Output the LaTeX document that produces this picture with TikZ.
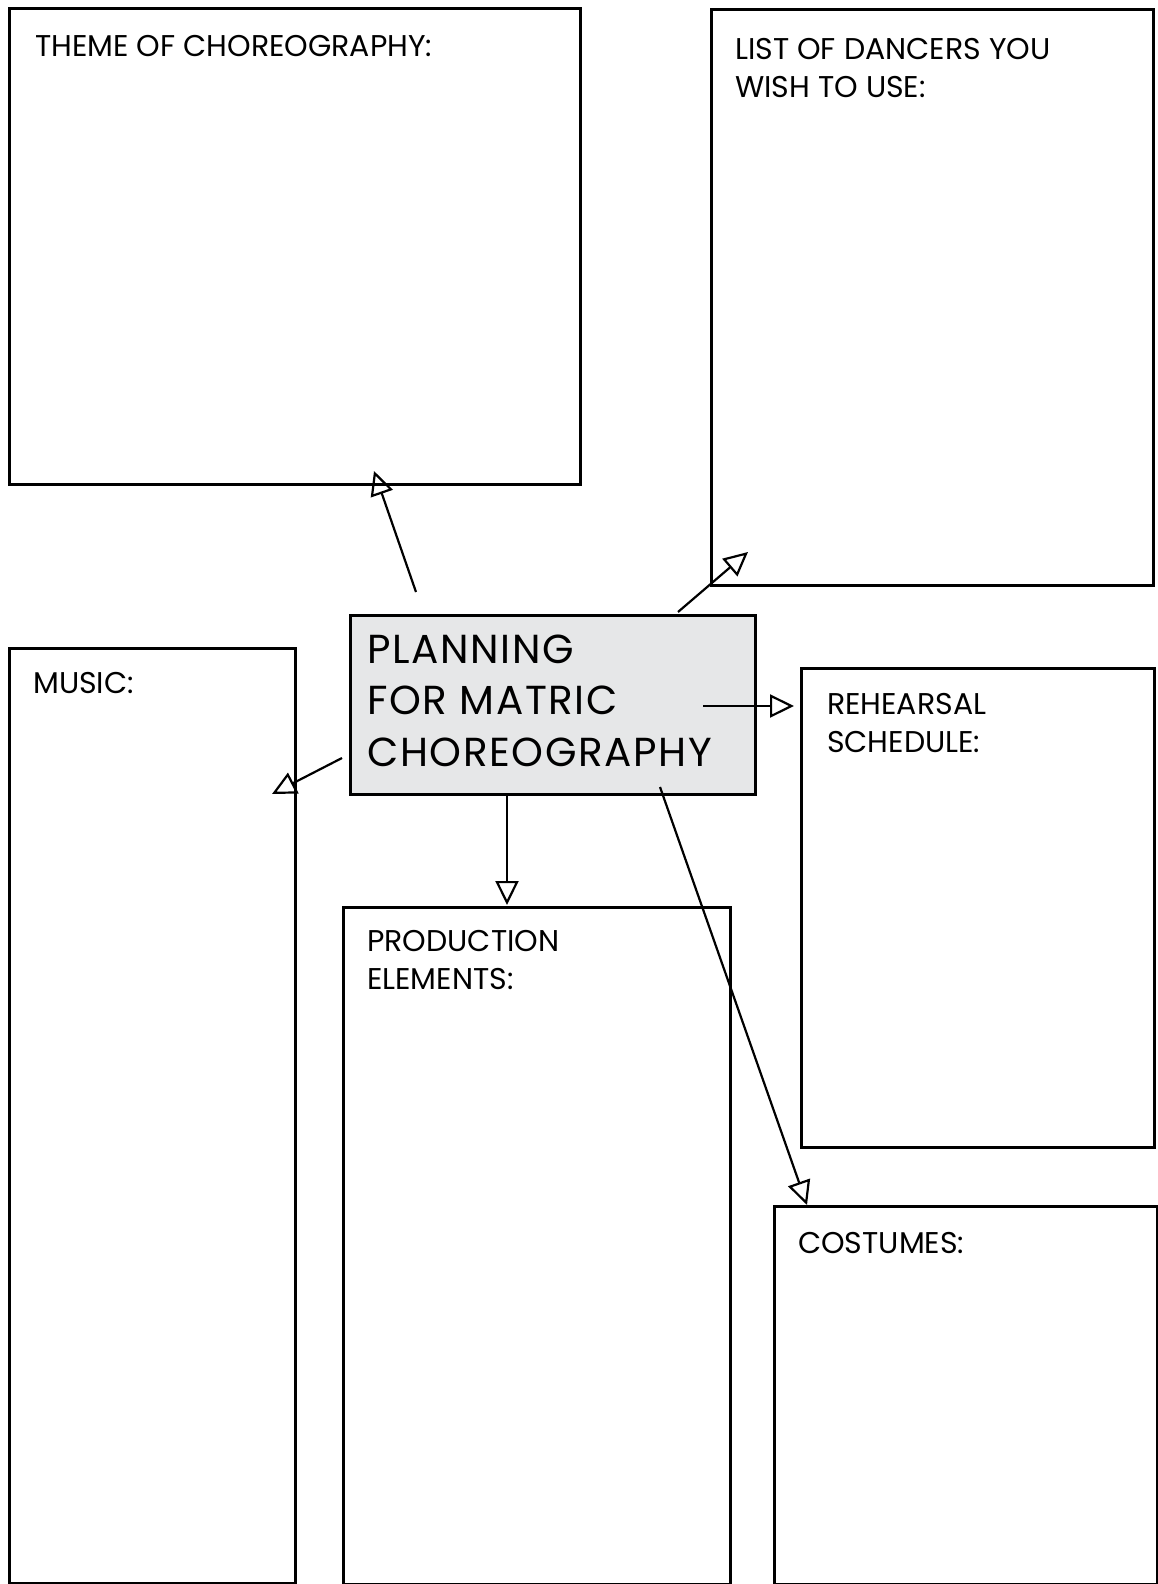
\documentclass[tikz,border=0pt]{standalone}
\usepackage{fontspec}
\setmainfont{Poppins}
\newfontfamily\hubfont[LetterSpace=4.0]{Poppins}
\usetikzlibrary{arrows.meta}
\definecolor{boxgray}{HTML}{E6E7E8}
\begin{document}
\begin{tikzpicture}[x=1pt,y=-1pt,
  panel/.style={draw, line width=2.7pt, inner sep=0pt, anchor=north west, fill=white},
  hub/.style={panel, fill=boxgray},
  lbl/.style={anchor=base west, inner sep=0pt, align=left, font=\fontsize{30}{37.5}\selectfont},
  hublbl/.style={anchor=base west, inner sep=0pt, align=left, font=\hubfont\fontsize{40.5}{51.5}\selectfont},
  link/.style={line width=2.2pt, -{Triangle[open, length=24pt, width=23pt, line width=2.2pt]}}
]
\useasboundingbox (0,0) rectangle (1158,1584);
% boxes
\node[panel, minimum width=571pt, minimum height=476pt] (theme) at (8,7) {};
\node[panel, minimum width=442pt, minimum height=576pt] (dancers) at (710,8) {};
\node[panel, minimum width=286pt, minimum height=935pt] (music) at (8,647) {};
\node[panel, minimum width=353pt, minimum height=479pt] (rehearsal) at (800,667) {};
\node[panel, minimum width=387pt, minimum height=677pt] (production) at (342,906) {};
\node[panel, minimum width=383pt, minimum height=378pt] (costumes) at (773,1205) {};
\node[hub, minimum width=405pt, minimum height=179pt] (hub) at (349,614) {};
% texts (anchored at the baseline of the last line)
\node[lbl] (themet) at (35,57) {THEME OF CHOREOGRAPHY:};
\node[lbl] (dancerst) at (735,97.5) {LIST OF DANCERS YOU\\WISH TO USE:};
\node[lbl] (musict) at (33,693) {MUSIC:};
\node[lbl] (rehearsalt) at (827,752) {REHEARSAL\\SCHEDULE:};
\node[lbl] (productiont) at (367,989) {PRODUCTION\\ELEMENTS:};
\node[lbl] (costumest) at (798,1253) {COSTUMES:};
\node[hublbl] (hubt) at (367,766) {PLANNING\\FOR MATRIC\\CHOREOGRAPHY};
% connector ends
\coordinate (a1s) at (416,592); \coordinate (a1e) at (374,471);
\coordinate (a2s) at (678,612); \coordinate (a2e) at (748,552);
\coordinate (a3s) at (703,706); \coordinate (a3e) at (794,706);
\coordinate (a4s) at (342,758); \coordinate (a4e) at (272,794);
\coordinate (a5s) at (507,793); \coordinate (a5e) at (507,905);
\coordinate (a6s) at (660,787); \coordinate (a6e) at (807,1205);
\draw[link] (a1s) -- (a1e);
\draw[link] (a2s) -- (a2e);
\draw[link] (a3s) -- (a3e);
\draw[link] (a4s) -- (a4e);
\draw[link] (a5s) -- (a5e);
\draw[link] (a6s) -- (a6e);
\end{tikzpicture}
\end{document}
